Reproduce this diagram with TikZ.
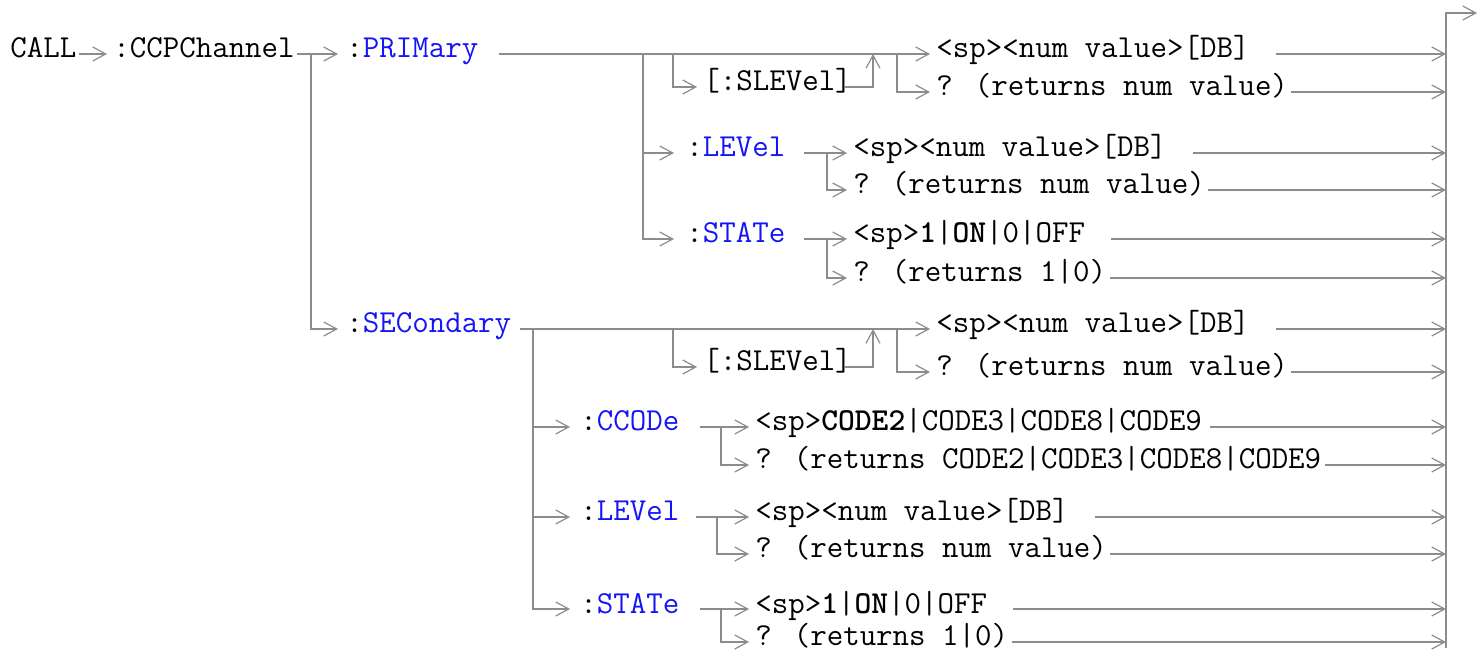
\documentclass[tikz,border=0pt]{standalone}
\usepackage{fontspec}
\usetikzlibrary{arrows.meta}
\definecolor{azul}{RGB}{20,20,245}
\definecolor{gris}{RGB}{140,140,140}
\newcommand{\cmd}[1]{\textcolor{azul}{#1}}

\begin{document}
\begin{tikzpicture}[
    x=0.5pt, y=-0.5pt,
    texto/.style={font=\ttfamily\fontsize{16pt}{18pt}\selectfont, anchor=west,
        inner sep=0pt, text height=9pt, text depth=5pt},
    linea/.style={gris, line width=0.9pt},
    flecha/.style={linea, -{Straight Barb[length=6.5pt, width=7pt, line width=0.6pt]},
        shorten >=3pt}
]
\useasboundingbox (0,0) rectangle (1484,657);

% Raiz del comando
\node[texto] (call) at (10,54) {CALL};
\node[texto] (ccp) at (113,54) {:CCPChannel};
\node[texto] (pri) at (346,54) {:\cmd{PRIMary}};
\node[texto] (sec) at (346,329) {:\cmd{SECondary}};
\draw[flecha, shorten <=1pt] (call) -- (ccp);
\draw[flecha, shorten <=1pt, shorten >=4pt] (ccp) -- (pri);
\coordinate (rama) at (311,54);
\draw[flecha, shorten >=4pt] (rama) |- (sec);

% PRIMary
\node[texto] (pnum) at (936,54) {<sp><num value>[DB]};
\node[texto] (pslev) at (703,87) {[:SLEVel]};
\node[texto] (pq) at (936,92) {? (returns num value)};
\draw[flecha, shorten <=10pt] (pri) -- (pnum);
\coordinate (ps1) at (673,54);
\coordinate (ps2) at (873,54);
\coordinate (ps3) at (897,54);
\draw[flecha] (ps1) |- (pslev);
\draw[flecha, shorten >=0pt] ([xshift=-4pt]pslev.east) -| (ps2);
\draw[flecha] (ps3) |- (pq);

\coordinate (pv) at (643,54);
\node[texto] (plev) at (686,153) {:\cmd{LEVel}};
\node[texto] (pst) at (686,239) {:\cmd{STATe}};
\draw[flecha, shorten >=6pt] (pv) |- (plev);
\draw[flecha, shorten >=6pt] (pv) |- (pst);

\node[texto] (plevv) at (853,153) {<sp><num value>[DB]};
\node[texto] (plevq) at (853,190) {? (returns num value)};
\draw[flecha, shorten <=9pt] (plev) -- (plevv);
\coordinate (pl1) at (827,153);
\draw[flecha] (pl1) |- (plevq);

\node[texto] (pstv) at (853,239) {<sp>\textbf{1}|\textbf{ON}|0|OFF};
\node[texto] (pstq) at (853,278) {? (returns 1|0)};
\draw[flecha, shorten <=9pt] (pst) -- (pstv);
\coordinate (pt1) at (827,239);
\draw[flecha] (pt1) |- (pstq);

% SECondary
\node[texto] (snum) at (936,329) {<sp><num value>[DB]};
\node[texto] (sslev) at (703,367) {[:SLEVel]};
\node[texto] (sq) at (936,372) {? (returns num value)};
\draw[flecha, shorten <=4pt] (sec) -- (snum);
\coordinate (ss1) at (673,329);
\coordinate (ss2) at (873,329);
\coordinate (ss3) at (897,329);
\draw[flecha] (ss1) |- (sslev);
\draw[flecha, shorten >=0pt] ([xshift=-4pt]sslev.east) -| (ss2);
\draw[flecha] (ss3) |- (sq);

\coordinate (sv) at (533,329);
\node[texto] (scc) at (580,427) {:\cmd{CCODe}};
\node[texto] (slev) at (580,517) {:\cmd{LEVel}};
\node[texto] (sst) at (580,609) {:\cmd{STATe}};
\foreach \n in {scc,slev,sst}
    \draw[flecha, shorten >=5pt] (sv) |- (\n);

\node[texto] (sccv) at (755,427) {<sp>\textbf{CODE2}|CODE3|CODE8|CODE9};
\node[texto] (sccq) at (755,465) {? (returns CODE2|CODE3|CODE8|CODE9};
\draw[flecha, shorten <=10pt] (scc) -- (sccv);
\coordinate (sc1) at (721,427);
\draw[flecha] (sc1) |- (sccq);

\node[texto] (slevv) at (755,517) {<sp><num value>[DB]};
\node[texto] (slevq) at (755,554) {? (returns num value)};
\draw[flecha, shorten <=8pt] (slev) -- (slevv);
\coordinate (sl1) at (717,517);
\draw[flecha] (sl1) |- (slevq);

\node[texto] (sstv) at (755,609) {<sp>\textbf{1}|\textbf{ON}|0|OFF};
\node[texto] (sstq) at (755,642) {? (returns 1|0)};
\draw[flecha, shorten <=10pt] (sst) -- (sstv);
\coordinate (st1) at (721,609);
\draw[flecha] (st1) |- (sstq);

% Barra de salida
\coordinate (barra) at (1446,648);
\coordinate (sale) at (1477,13);
\draw[flecha, shorten >=0pt] (barra) |- (sale);
\foreach \n in {pnum,plevv,pstv,snum,slevv,sstv}
    \draw[flecha, shorten <=13pt, shorten >=0pt] (\n.east) -- (\n.east -| barra);
\foreach \n in {pq,plevq,pstq,sq,slevq,sstq,sccq}
    \draw[flecha, shorten <=1.5pt, shorten >=0pt] (\n.east) -- (\n.east -| barra);
\draw[flecha, shorten <=4pt, shorten >=0pt] (sccv.east) -- (sccv.east -| barra);

\end{tikzpicture}
\end{document}
